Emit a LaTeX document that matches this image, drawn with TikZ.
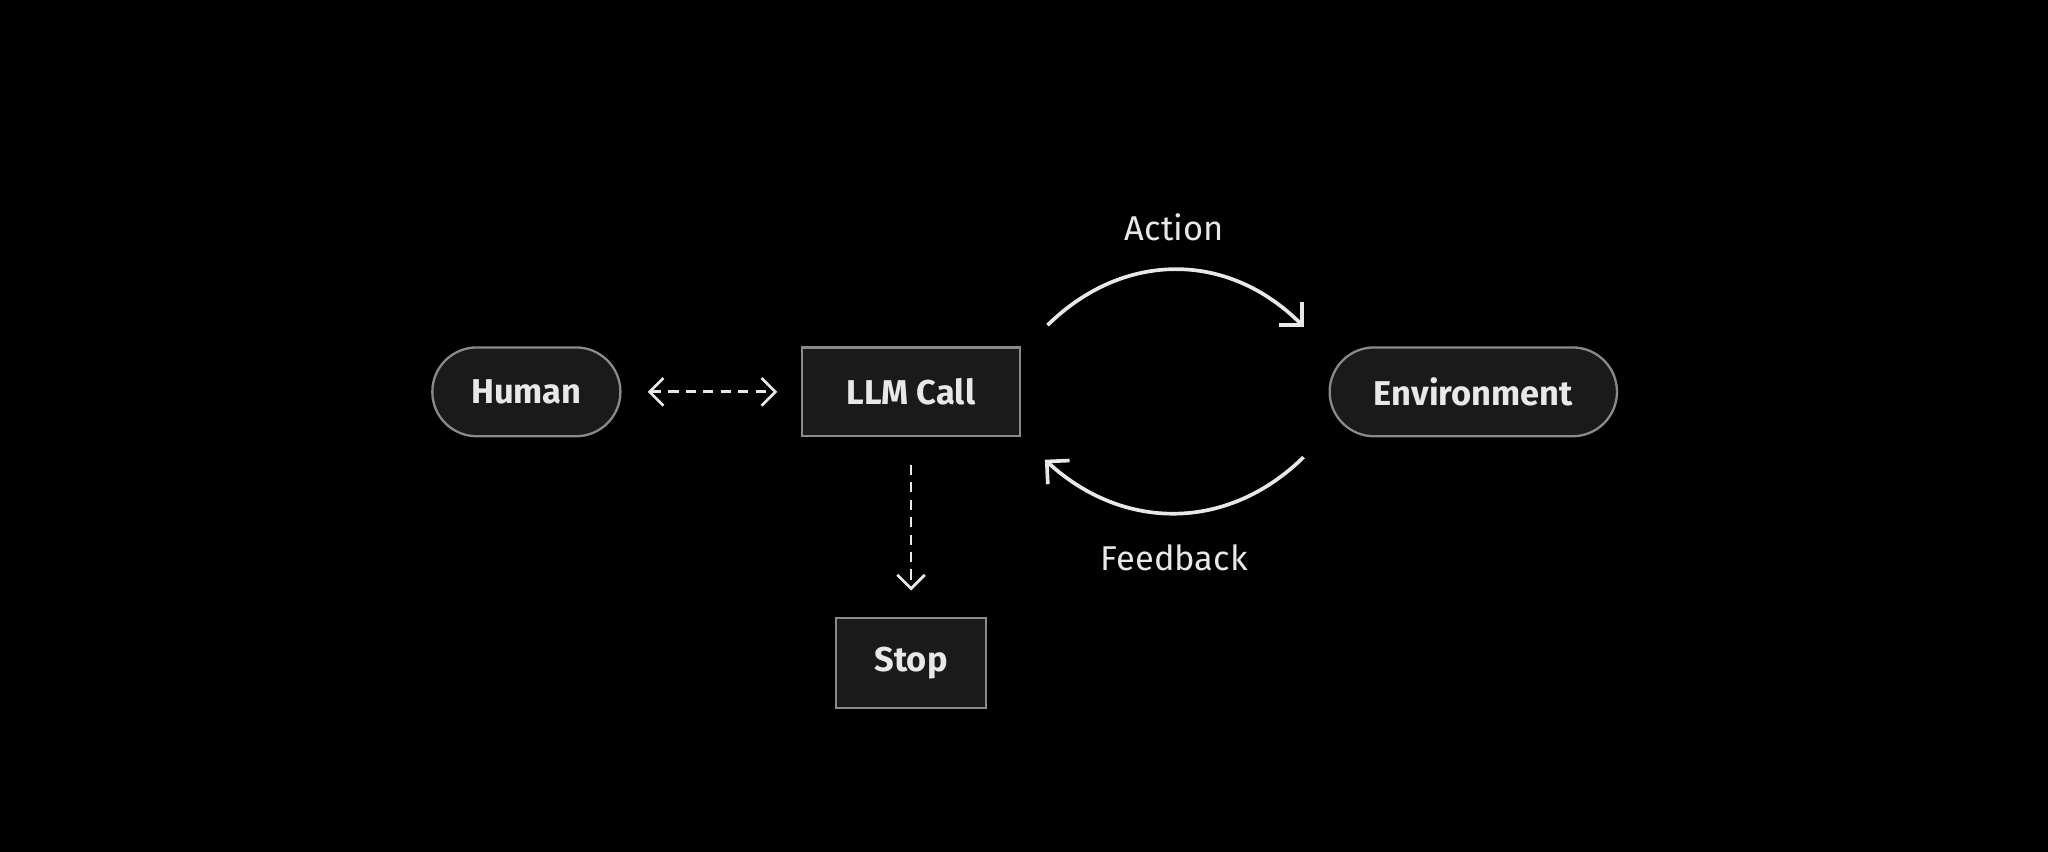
\documentclass[tikz,border=0pt]{standalone}
\usepackage{fontspec}
\setmainfont{Fira Sans}
\usetikzlibrary{arrows.meta,positioning}
\definecolor{boxfill}{HTML}{1A1A1A}
\definecolor{boxline}{HTML}{8A8A8A}
\definecolor{ink}{HTML}{E8E8E8}
\tikzset{
  box/.style={draw=boxline, fill=boxfill, line width=0.5pt, text=ink,
    font=\fontsize{7.5}{9}\selectfont\bfseries, minimum height=0.68cm, inner sep=0pt},
  pill/.style={box, rounded corners=0.34cm},
  label/.style={text=ink, font=\fontsize{7.5}{9}\selectfont},
  link/.style={ink, line width=0.6pt, dashed, dash pattern=on 2.2pt off 1.6pt,
    -{Straight Barb[length=3pt,width=6pt]}},
  loop/.style={ink, line width=0.8pt, -{Straight Barb[length=3.5pt,width=7pt]}}
}
\begin{document}
\begin{tikzpicture}
  % background
  \fill[black] (0,0) rectangle (15.68,6.52);
  \useasboundingbox (0,0) rectangle (15.68,6.52);

  % nodes
  \node[box, minimum width=1.67cm] (llm) at (6.975,3.52) {LLM Call};
  \node[pill, minimum width=1.44cm] (human) at (4.03,3.52) {Human};
  \node[pill, minimum width=2.2cm] (env) at (11.28,3.52) {Environment};
  \node[box, minimum width=1.15cm, minimum height=0.69cm] (stop) at (6.975,1.445) {Stop};

  % loop ends
  \coordinate (actA) at (8.02,4.03);
  \coordinate (actB) at (9.98,4.02);
  \coordinate (fbA) at (9.98,3.02);
  \coordinate (fbB) at (8.00,3.00);

  % connectors
  \draw[link, {Straight Barb[length=3pt,width=6pt]}-{Straight Barb[length=3pt,width=6pt]}]
    ([xshift=0.2cm]human.east) -- ([xshift=-0.18cm]llm.west);
  \draw[link] ([yshift=-0.21cm]llm.south) -- ([yshift=0.2cm]stop.north);
  \draw[loop] (actA) .. controls (8.6,4.6) and (9.4,4.6) .. (actB);
  \draw[loop] (fbA) .. controls (9.4,2.45) and (8.6,2.45) .. (fbB);

  % labels
  \node[label] (action) at (8.99,4.78) {Action};
  \node[label] (feedback) at (8.99,2.25) {Feedback};
\end{tikzpicture}
\end{document}
